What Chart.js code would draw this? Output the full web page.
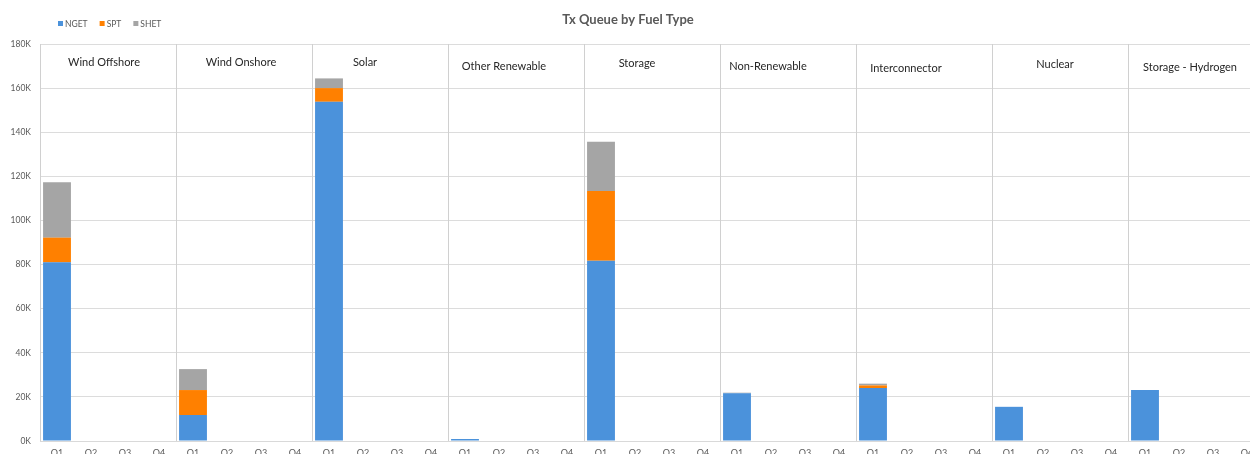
<!DOCTYPE html>
<html>
<head>
<meta charset="utf-8">
<title>Tx Queue by Fuel Type</title>
<script src="https://cdn.jsdelivr.net/npm/chart.js@4/dist/chart.umd.min.js"></script>
<style>
  html, body { margin: 0; padding: 0; background: #ffffff; overflow: hidden; }
  #wrap { position: relative; width: 1264px; height: 470px; }
</style>
</head>
<body>
<div id="wrap"><canvas id="chart"></canvas></div>
<script>
// Fuel type groups, each split into four quarters
const fuelTypes = ['Wind Offshore', 'Wind Onshore', 'Solar', 'Other Renewable', 'Storage',
                   'Non-Renewable', 'Interconnector', 'Nuclear', 'Storage - Hydrogen'];
const quarters = ['Q1', 'Q2', 'Q3', 'Q4'];

// Queue capacity (MW), one row per fuel type: Q1, Q2, Q3, Q4
const nget = [
  81000, 0, 0, 0,
  11800, 0, 0, 0,
  153800, 0, 0, 0,
  900, 0, 0, 0,
  81700, 0, 0, 0,
  21600, 0, 0, 0,
  24000, 0, 0, 0,
  15500, 0, 0, 0,
  23100, 0, 0, 0
];
const spt = [
  11200, 0, 0, 0,
  11300, 0, 0, 0,
  6200, 0, 0, 0,
  0, 0, 0, 0,
  31600, 0, 0, 0,
  0, 0, 0, 0,
  1200, 0, 0, 0,
  0, 0, 0, 0,
  0, 0, 0, 0
];
const shet = [
  25100, 0, 0, 0,
  9500, 0, 0, 0,
  4400, 0, 0, 0,
  0, 0, 0, 0,
  22400, 0, 0, 0,
  300, 0, 0, 0,
  800, 0, 0, 0,
  0, 0, 0, 0,
  0, 0, 0, 0
];
const yTicks = [0, 20000, 40000, 60000, 80000, 100000, 120000, 140000, 160000, 180000];

const labels = [];
fuelTypes.forEach(() => quarters.forEach(q => labels.push(q)));

const seriesColors = { NGET: '#4b92db', SPT: '#ff8000', SHET: '#a5a5a5' };
const textColor = '#595959';
const fontFamily = 'Lato, "Open Sans", "Liberation Sans", sans-serif';

// Title, legend, group separators and group captions
const decorations = {
  id: 'decorations',
  afterDraw(chart, args, opts) {
    const { ctx, chartArea, scales } = chart;
    const x = scales.x;
    const n = quarters.length;
    ctx.save();

    // separators between fuel type groups
    ctx.strokeStyle = '#d0d0d0';
    ctx.lineWidth = 1;
    for (let g = 0; g <= fuelTypes.length; g++) {
      let px;
      if (g === 0) px = chartArea.left;
      else if (g === fuelTypes.length) px = chartArea.right;
      else px = (x.getPixelForValue(g * n - 1) + x.getPixelForValue(g * n)) / 2;
      px = Math.round(px) + 0.5;
      ctx.beginPath();
      ctx.moveTo(px, chartArea.top);
      ctx.lineTo(px, chartArea.bottom);
      ctx.stroke();
    }

    // group captions
    ctx.fillStyle = '#262626';
    ctx.font = '11px ' + fontFamily;
    ctx.textAlign = 'center';
    ctx.textBaseline = 'middle';
    fuelTypes.forEach((name, g) => {
      const center = (x.getPixelForValue(g * n) + x.getPixelForValue(g * n + n - 1)) / 2;
      const off = opts.captionOffsets[g];
      ctx.fillText(name, center + off[0], chartArea.top + off[1]);
    });

    // title
    ctx.fillStyle = textColor;
    ctx.font = 'bold 13px ' + fontFamily;
    ctx.fillText('Tx Queue by Fuel Type', 628, 20);

    // legend
    ctx.font = '8.5px ' + fontFamily;
    ctx.textAlign = 'left';
    let lx = 58;
    chart.data.datasets.forEach(ds => {
      ctx.fillStyle = ds.backgroundColor;
      ctx.fillRect(lx, 21, 5, 5);
      ctx.fillStyle = textColor;
      ctx.fillText(ds.label, lx + 7, 24);
      lx += 7 + ctx.measureText(ds.label).width + 12;
    });
    ctx.restore();
  }
};

new Chart(document.getElementById('chart'), {
  type: 'bar',
  data: {
    labels: labels,
    datasets: [
      { label: 'NGET', data: nget, backgroundColor: seriesColors.NGET },
      { label: 'SPT', data: spt, backgroundColor: seriesColors.SPT },
      { label: 'SHET', data: shet, backgroundColor: seriesColors.SHET }
    ]
  },
  options: {
    responsive: true,
    maintainAspectRatio: false,
    animation: false,
    layout: { padding: { top: 44, right: 0, left: 0, bottom: 0 } },
    datasets: { bar: { categoryPercentage: 1, barPercentage: 0.82, borderWidth: 0 } },
    plugins: {
      legend: { display: false },
      title: { display: false },
      tooltip: { enabled: false },
      decorations: {
        captionOffsets: [[-4, 18], [-3, 18], [-15, 18], [-12, 22], [-15, 19],
                         [-20, 22], [-18, 24], [-5, 20], [-6, 23]]
      }
    },
    scales: {
      x: {
        stacked: true,
        grid: { display: false, drawTicks: false },
        border: { display: true, color: '#d9d9d9' },
        ticks: {
          color: textColor, font: { family: fontFamily, size: 9 },
          padding: 7, autoSkip: false, maxRotation: 0
        },
        afterFit(scale) { scale.height = 29; }
      },
      y: {
        stacked: true,
        min: 0, max: 180000,
        afterBuildTicks(scale) { scale.ticks = yTicks.map(v => ({ value: v })); },
        grid: { color: '#dcdcdc', drawTicks: false },
        border: { display: false },
        ticks: {
          color: textColor, font: { family: fontFamily, size: 8.5 }, padding: 9,
          callback: v => (v / 1000) + 'K'
        },
        afterFit(scale) { scale.width = 40; }
      }
    }
  },
  plugins: [decorations]
});
</script>
</body>
</html>
